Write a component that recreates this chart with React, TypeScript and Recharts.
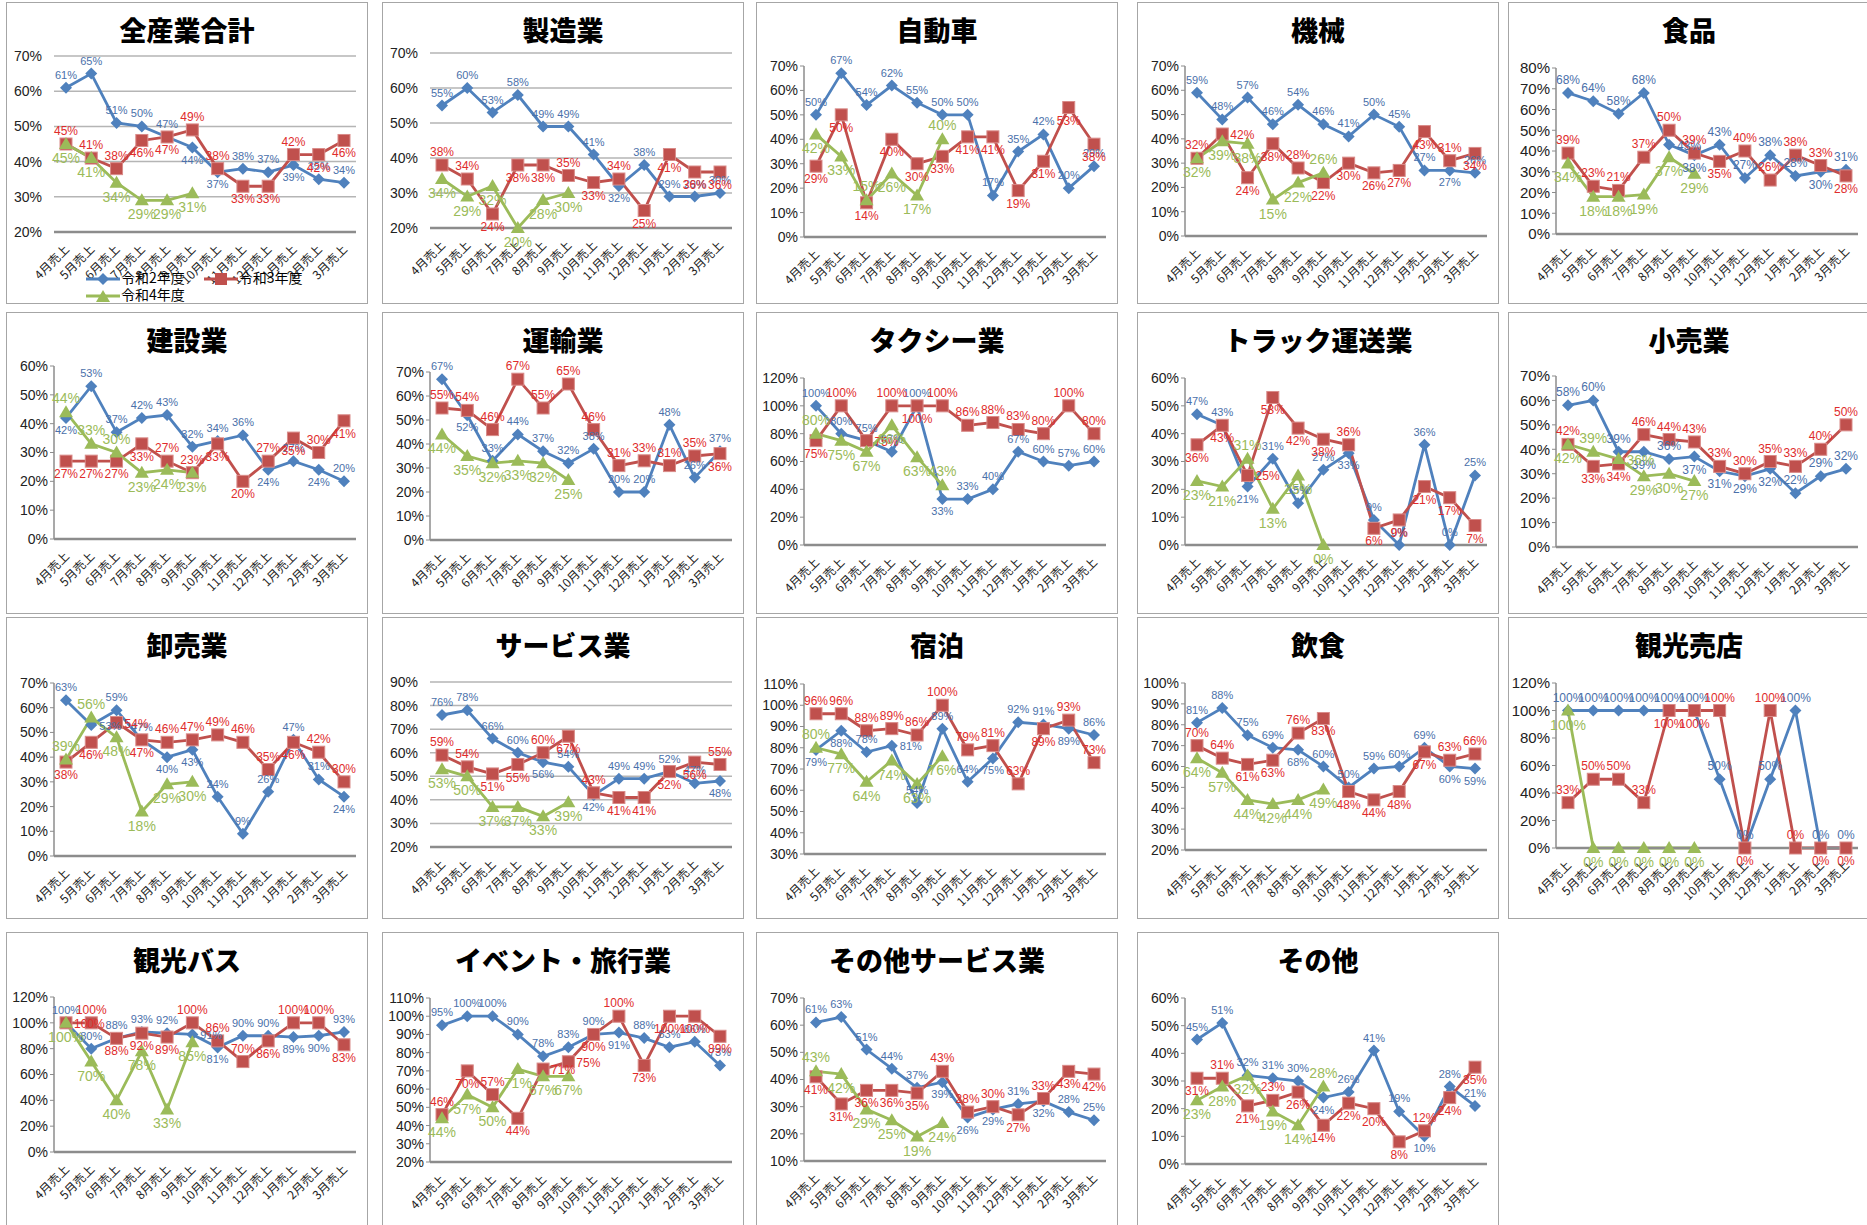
import React from "react"
import { CartesianGrid, LabelList, Line, LineChart, XAxis, YAxis } from "recharts"

const MONTHS = ["4月売上", "5月売上", "6月売上", "7月売上", "8月売上", "9月売上", "10月売上", "11月売上", "12月売上", "1月売上", "2月売上", "3月売上"]
const SERIES_NAMES = ["令和2年度", "令和3年度", "令和4年度"]

// y axis tick sets (percent)
const T20_70 = [20, 30, 40, 50, 60, 70]
const T0_70 = [0, 10, 20, 30, 40, 50, 60, 70]
const T0_80 = [0, 10, 20, 30, 40, 50, 60, 70, 80]
const T0_60 = [0, 10, 20, 30, 40, 50, 60]
const T0_120 = [0, 20, 40, 60, 80, 100, 120]
const T20_90 = [20, 30, 40, 50, 60, 70, 80, 90]
const T30_110 = [30, 40, 50, 60, 70, 80, 90, 100, 110]
const T20_100 = [20, 30, 40, 50, 60, 70, 80, 90, 100]
const T20_110 = [20, 30, 40, 50, 60, 70, 80, 90, 100, 110]
const T10_70 = [10, 20, 30, 40, 50, 60, 70]

// 全産業合計
const ALL_R2 = [61, 65, 51, 50, 47, 44, 37, 38, 37, 39, 35, 34]
const ALL_R3 = [45, 41, 38, 46, 47, 49, 38, 33, 33, 42, 42, 46]
const ALL_R4 = [45, 41, 34, 29, 29, 31]
// 製造業
const MFG_R2 = [55, 60, 53, 58, 49, 49, 41, 32, 38, 29, 29, 30]
const MFG_R3 = [38, 34, 24, 38, 38, 35, 33, 34, 25, 41, 36, 36]
const MFG_R4 = [34, 29, 32, 20, 28, 30]
// 自動車
const CAR_R2 = [50, 67, 54, 62, 55, 50, 50, 17, 35, 42, 20, 29]
const CAR_R3 = [29, 50, 14, 40, 30, 33, 41, 41, 19, 31, 53, 38]
const CAR_R4 = [42, 33, 15, 26, 17, 40]
// 機械
const MACH_R2 = [59, 48, 57, 46, 54, 46, 41, 50, 45, 27, 27, 26]
const MACH_R3 = [32, 42, 24, 38, 28, 22, 30, 26, 27, 43, 31, 34]
const MACH_R4 = [32, 39, 38, 15, 22, 26]
// 食品
const FOOD_R2 = [68, 64, 58, 68, 43, 38, 43, 27, 38, 28, 30, 31]
const FOOD_R3 = [39, 23, 21, 37, 50, 39, 35, 40, 26, 38, 33, 28]
const FOOD_R4 = [34, 18, 18, 19, 37, 29]
// 建設業
const CONS_R2 = [42, 53, 37, 42, 43, 32, 34, 36, 24, 27, 24, 20]
const CONS_R3 = [27, 27, 27, 33, 27, 23, 33, 20, 27, 35, 30, 41]
const CONS_R4 = [44, 33, 30, 23, 24, 23]
// 運輸業
const TRANS_R2 = [67, 52, 33, 44, 37, 32, 38, 20, 20, 48, 26, 37]
const TRANS_R3 = [55, 54, 46, 67, 55, 65, 46, 31, 33, 31, 35, 36]
const TRANS_R4 = [44, 35, 32, 33, 32, 25]
// タクシー業
const TAXI_R2 = [100, 80, 75, 67, 100, 33, 33, 40, 67, 60, 57, 60]
const TAXI_R3 = [75, 100, 75, 100, 100, 100, 86, 88, 83, 80, 100, 80]
const TAXI_R4 = [80, 75, 67, 86, 63, 43]
// トラック運送業
const TRUCK_R2 = [47, 43, 21, 31, 15, 27, 33, 9, 0, 36, 0, 25]
const TRUCK_R3 = [36, 43, 25, 53, 42, 38, 36, 6, 9, 21, 17, 7]
const TRUCK_R4 = [23, 21, 31, 13, 25, 0]
// 小売業
const RETAIL_R2 = [58, 60, 39, 39, 36, 37, 31, 29, 32, 22, 29, 32]
const RETAIL_R3 = [42, 33, 34, 46, 44, 43, 33, 30, 35, 33, 40, 50]
const RETAIL_R4 = [42, 39, 36, 29, 30, 27]
// 卸売業
const WHOLE_R2 = [63, 53, 59, 47, 40, 43, 24, 9, 26, 47, 31, 24]
const WHOLE_R3 = [38, 46, 54, 47, 46, 47, 49, 46, 35, 46, 42, 30]
const WHOLE_R4 = [39, 56, 48, 18, 29, 30]
// サービス業
const SERV_R2 = [76, 78, 66, 60, 56, 54, 42, 49, 49, 52, 47, 48]
const SERV_R3 = [59, 54, 51, 55, 60, 67, 43, 41, 41, 52, 56, 55]
const SERV_R4 = [53, 50, 37, 37, 33, 39]
// 宿泊
const HOTEL_R2 = [79, 88, 78, 81, 54, 89, 64, 75, 92, 91, 89, 86]
const HOTEL_R3 = [96, 96, 88, 89, 86, 100, 79, 81, 63, 89, 93, 73]
const HOTEL_R4 = [80, 77, 64, 74, 63, 76]
// 飲食
const FOODSV_R2 = [81, 88, 75, 69, 68, 60, 50, 59, 60, 69, 60, 59]
const FOODSV_R3 = [70, 64, 61, 63, 76, 83, 48, 44, 48, 67, 63, 66]
const FOODSV_R4 = [64, 57, 44, 42, 44, 49]
// 観光売店
const SHOP_R2 = [100, 100, 100, 100, 100, 100, 50, 0, 50, 100, 0, 0]
const SHOP_R3 = [33, 50, 50, 33, 100, 100, 100, 0, 100, 0, 0, 0]
const SHOP_R4 = [100, 0, 0, 0, 0, 0]
// 観光バス
const BUS_R2 = [100, 80, 88, 93, 92, 91, 81, 90, 90, 89, 90, 93]
const BUS_R3 = [100, 100, 88, 92, 89, 100, 86, 70, 86, 100, 100, 83]
const BUS_R4 = [100, 70, 40, 78, 33, 85]
// イベント・旅行業
const EVENT_R2 = [95, 100, 100, 90, 78, 83, 90, 91, 88, 83, 86, 73]
const EVENT_R3 = [46, 70, 57, 44, 71, 75, 90, 100, 73, 100, 100, 89]
const EVENT_R4 = [44, 57, 50, 71, 67, 67]
// その他サービス業
const OSERV_R2 = [61, 63, 51, 44, 37, 39, 26, 29, 31, 32, 28, 25]
const OSERV_R3 = [41, 31, 36, 36, 35, 43, 28, 30, 27, 33, 43, 42]
const OSERV_R4 = [43, 42, 29, 25, 19, 24]
// その他
const OTHER_R2 = [45, 51, 32, 31, 30, 24, 26, 41, 19, 10, 28, 21]
const OTHER_R3 = [31, 31, 21, 23, 26, 14, 22, 20, 8, 12, 24, 35]
const OTHER_R4 = [23, 28, 32, 19, 14, 28]

const PANELS = [
  { title: "全産業合計", r2: ALL_R2, r3: ALL_R3, r4: ALL_R4, ticks: T20_70, grid: true, legend: true },
  { title: "製造業", r2: MFG_R2, r3: MFG_R3, r4: MFG_R4, ticks: T20_70, grid: true },
  { title: "自動車", r2: CAR_R2, r3: CAR_R3, r4: CAR_R4, ticks: T0_70 },
  { title: "機械", r2: MACH_R2, r3: MACH_R3, r4: MACH_R4, ticks: T0_70 },
  { title: "食品", r2: FOOD_R2, r3: FOOD_R3, r4: FOOD_R4, ticks: T0_80, wide: true, redTop: true },
  { title: "建設業", r2: CONS_R2, r3: CONS_R3, r4: CONS_R4, ticks: T0_60 },
  { title: "運輸業", r2: TRANS_R2, r3: TRANS_R3, r4: TRANS_R4, ticks: T0_70, redTop: true },
  { title: "タクシー業", r2: TAXI_R2, r3: TAXI_R3, r4: TAXI_R4, ticks: T0_120, redTop: true },
  { title: "トラック運送業", r2: TRUCK_R2, r3: TRUCK_R3, r4: TRUCK_R4, ticks: T0_60 },
  { title: "小売業", r2: RETAIL_R2, r3: RETAIL_R3, r4: RETAIL_R4, ticks: T0_70, wide: true, redTop: true },
  { title: "卸売業", r2: WHOLE_R2, r3: WHOLE_R3, r4: WHOLE_R4, ticks: T0_70, redTop: true },
  { title: "サービス業", r2: SERV_R2, r3: SERV_R3, r4: SERV_R4, ticks: T20_90, grid: true },
  { title: "宿泊", r2: HOTEL_R2, r3: HOTEL_R3, r4: HOTEL_R4, ticks: T30_110, redTop: true },
  { title: "飲食", r2: FOODSV_R2, r3: FOODSV_R3, r4: FOODSV_R4, ticks: T20_100 },
  { title: "観光売店", r2: SHOP_R2, r3: SHOP_R3, r4: SHOP_R4, ticks: T0_120, wide: true, redTop: true },
  { title: "観光バス", r2: BUS_R2, r3: BUS_R3, r4: BUS_R4, ticks: T0_120, redTop: true },
  { title: "イベント・旅行業", r2: EVENT_R2, r3: EVENT_R3, r4: EVENT_R4, ticks: T20_110 },
  { title: "その他サービス業", r2: OSERV_R2, r3: OSERV_R3, r4: OSERV_R4, ticks: T10_70 },
  { title: "その他", r2: OTHER_R2, r3: OTHER_R3, r4: OTHER_R4, ticks: T0_60 },
]

// layout (pixels)
const COL_X = [6, 382, 756, 1137, 1508]
const ROW_Y = [2, 312, 617, 932]
const PANEL_W = 362
const PANEL_H = 302
const PLOT_TOP = [54, 51, 64, 64, 66, 54, 60, 66, 66, 64, 66, 65, 67, 66, 66, 65, 66, 66, 66]
const PLOT_BOTTOM = [230, 226, 235, 234, 232, 227, 228, 233, 233, 235, 239, 230, 237, 233, 231, 220, 230, 229, 232]
const X_AXIS_H = 50
const Y_AXIS_W = 48

const BLUE = "#4F81BD"
const RED = "#C0504D"
const GREEN = "#9BBB59"
const CJK = "'Noto Sans CJK JP', 'Liberation Sans', sans-serif"
const NUM = "'Liberation Sans', 'Noto Sans CJK JP', sans-serif"
const KEYS = ["r2", "r3", "r4"]

function makeRows(r2: number[], r3: number[], r4: number[]) {
  return MONTHS.map((m, i) => ({
    month: m,
    r2: r2[i],
    r3: r3[i],
    r4: i < r4.length ? r4[i] : null,
  }))
}

function diamond(props: any) {
  const { cx, cy, index } = props
  if (cx == null || cy == null || props.value == null) return <g key={index} />
  return <polygon key={index} points={`${cx},${cy - 6} ${cx + 6},${cy} ${cx},${cy + 6} ${cx - 6},${cy}`} fill={BLUE} />
}

function square(props: any) {
  const { cx, cy, index } = props
  if (cx == null || cy == null || props.value == null) return <g key={index} />
  return <rect key={index} x={cx - 6} y={cy - 6} width={12} height={12} fill={RED} stroke="#d98b89" strokeWidth={1} />
}

function triangle(props: any) {
  const { cx, cy, index } = props
  if (cx == null || cy == null || props.value == null || (Array.isArray(props.value) && props.value[1] == null)) return <g key={index} />
  return <polygon key={index} points={`${cx},${cy - 7} ${cx + 7},${cy + 5} ${cx - 7},${cy + 5}`} fill={GREEN} />
}

// label goes to the side away from nearby points of the other series
function labelMaker(key: string, data: any[], range: number, color: string, size: number, fallback: "top" | "bottom") {
  const prio = KEYS.length - KEYS.indexOf(key)
  return (props: any) => {
    const x = props.x ?? props.viewBox?.x
    const y = props.y ?? props.viewBox?.y
    const v = props.value
    if (v == null || x == null || y == null) return null
    const row = data[props.index] || {}
    let above = 0
    let below = 0
    KEYS.forEach((k) => {
      const o = row[k]
      if (k === key || o == null || Math.abs(o - v) > range * 0.11) return
      const oPrio = KEYS.length - KEYS.indexOf(k)
      if (o > v || (o === v && oPrio > prio)) above++
      else below++
    })
    let pos: string = fallback
    if (above && below) pos = "right"
    else if (above) pos = "bottom"
    else if (below) pos = "top"
    let tx = x
    let ty = pos === "top" ? y - 9 : y + size + 5
    let anchor = "middle"
    if (pos === "right") {
      tx = x + 8
      ty = y + size / 2 - 1
      anchor = "start"
    }
    return (
      <text x={tx} y={ty} fill={color} fontSize={size} fontFamily={NUM} textAnchor={anchor}>
        {v}%
      </text>
    )
  }
}

function XTick(props: any) {
  const { x, y, payload } = props
  return (
    <text x={x + 4} y={y + 10} fontSize={12} fontFamily={CJK} fill="#222" textAnchor="end" transform={`rotate(-45 ${x + 4} ${y + 10})`}>
      {payload.value}
    </text>
  )
}

function LegendIcon({ color, kind }: { color: string; kind: number }) {
  return (
    <svg width={36} height={14} style={{ verticalAlign: "middle" }}>
      <line x1={1} y1={7} x2={35} y2={7} stroke={color} strokeWidth={3} />
      {kind === 0 && <polygon points="18,1 24,7 18,13 12,7" fill={color} />}
      {kind === 1 && <rect x={12} y={1} width={12} height={12} fill={color} />}
      {kind === 2 && <polygon points="18,1 25,13 11,13" fill={color} />}
    </svg>
  )
}

function Panel({ cfg, idx }: { cfg: any; idx: number }) {
  const row = Math.floor(idx / 5)
  const col = idx % 5
  const data = makeRows(cfg.r2, cfg.r3, cfg.r4)
  const top = PLOT_TOP[idx]
  const bottom = PANEL_H - PLOT_BOTTOM[idx] - X_AXIS_H
  const ticks = cfg.ticks
  const range = ticks[ticks.length - 1] - ticks[0]
  const tickSize = cfg.wide ? 15 : 14
  return (
    <div
      style={{
        position: "absolute",
        left: COL_X[col],
        top: ROW_Y[row],
        width: PANEL_W,
        height: PANEL_H,
        border: "1.5px solid #a6a6a6",
        background: "#fff",
        boxSizing: "border-box",
      }}
    >
      <div
        style={{
          position: "absolute",
          left: 0,
          right: 0,
          top: 9,
          textAlign: "center",
          fontFamily: CJK,
          fontWeight: 900,
          fontSize: 27,
          color: "#000",
          lineHeight: "36px",
        }}
      >
        {cfg.title}
      </div>
      <div style={{ position: "absolute", left: -1.5, top: -1.5 }}>
        <LineChart width={PANEL_W} height={PANEL_H} data={data} margin={{ top, right: 12, bottom, left: 0 }}>
          {cfg.grid && <CartesianGrid vertical={false} stroke="#b5b5b5" strokeWidth={1.5} />}
          <XAxis
            dataKey="month"
            height={X_AXIS_H}
            interval={0}
            tick={<XTick />}
            tickLine={false}
            axisLine={{ stroke: "#8c8c8c", strokeWidth: 2.5 }}
            padding={{ left: 12, right: 12 }}
          />
          <YAxis
            width={Y_AXIS_W}
            domain={[ticks[0], ticks[ticks.length - 1]]}
            ticks={ticks}
            interval={0}
            tickFormatter={(v: number) => `${v}%`}
            tick={{ fontSize: tickSize, fill: "#222", fontFamily: NUM }}
            tickLine={cfg.grid ? false : { stroke: "#8c8c8c" }}
            tickSize={4}
            tickMargin={cfg.grid ? 8 : 2}
            axisLine={cfg.grid ? false : { stroke: "#8c8c8c", strokeWidth: 1.5 }}
          />
          <Line dataKey="r2" stroke={BLUE} strokeWidth={2.8} dot={diamond} activeDot={false} isAnimationActive={false}>
            <LabelList dataKey="r2" content={labelMaker("r2", data, range, "#4a70aa", cfg.wide ? 12 : 11, "top")} />
          </Line>
          <Line dataKey="r3" stroke={RED} strokeWidth={2.8} dot={square} activeDot={false} isAnimationActive={false}>
            <LabelList dataKey="r3" content={labelMaker("r3", data, range, "#e02c2c", 12, cfg.redTop ? "top" : "bottom")} />
          </Line>
          <Line dataKey="r4" stroke={GREEN} strokeWidth={2.8} dot={triangle} activeDot={false} isAnimationActive={false}>
            <LabelList dataKey="r4" content={labelMaker("r4", data, range, GREEN, 14, "bottom")} />
          </Line>
        </LineChart>
      </div>
      {cfg.legend && (
        <div style={{ position: "absolute", left: 78, top: 266, fontFamily: CJK, fontSize: 14, lineHeight: "17px", color: "#000" }}>
          <div>
            <LegendIcon color={BLUE} kind={0} />
            <span style={{ marginRight: 18 }}>{SERIES_NAMES[0]}</span>
            <LegendIcon color={RED} kind={1} />
            <span>{SERIES_NAMES[1]}</span>
          </div>
          <div>
            <LegendIcon color={GREEN} kind={2} />
            <span>{SERIES_NAMES[2]}</span>
          </div>
        </div>
      )}
    </div>
  )
}

export default function App() {
  return (
    <div style={{ position: "relative", width: 1867, height: 1225, overflow: "hidden", background: "#fff" }}>
      <style>{"body{margin:0}"}</style>
      {PANELS.map((p, i) => (
        <Panel key={p.title} cfg={p} idx={i} />
      ))}
    </div>
  )
}
